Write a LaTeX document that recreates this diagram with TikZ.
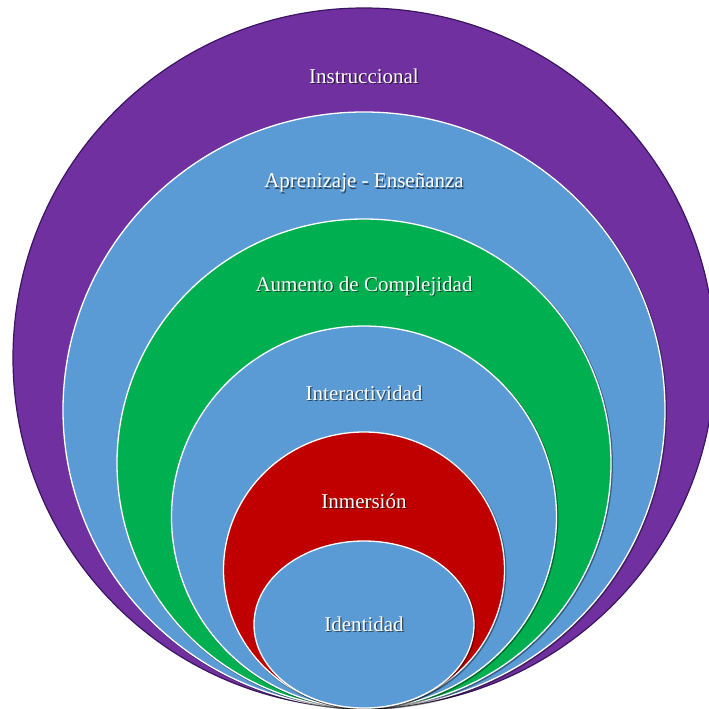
\documentclass[tikz,border=0pt]{standalone}
\usepackage{fontspec}
\setmainfont{Liberation Serif}
\definecolor{ringpurple}{HTML}{7030A0}
\definecolor{purpleedge}{HTML}{3B1561}
\definecolor{ringblue}{HTML}{5B9BD5}
\definecolor{ringgreen}{HTML}{00B050}
\definecolor{ringred}{HTML}{C00000}
\begin{document}
\begin{tikzpicture}[x=1pt,y=-1pt,
  ring/.style={draw=white, line width=1.3pt},
  ringshade/.style={draw=black, opacity=0.4, line width=1.8pt},
  caption/.style={text=white, font=\fontsize{21}{25}\selectfont},
  captionshade/.style={text=black, opacity=0.55, font=\fontsize{21}{25}\selectfont}]
\useasboundingbox (0,0) rectangle (709,709);
\clip (0,0) rectangle (709,709);

% outer ring
\fill[ringpurple] (364,358) ellipse [x radius=351pt, y radius=350pt];
\draw[purpleedge, line width=1.2pt] (364,358) ellipse [x radius=351pt, y radius=350pt];

% nested rings, all resting on the same bottom point
\draw[ringshade] (365,411) ellipse [x radius=301pt, y radius=298pt];
\fill[ringblue] (364,410) ellipse [x radius=301pt, y radius=298pt];
\draw[ring] (364,410) ellipse [x radius=301pt, y radius=298pt];

\draw[ringshade] (365,464.5) ellipse [x radius=247pt, y radius=244.5pt];
\fill[ringgreen] (364,463.5) ellipse [x radius=247pt, y radius=244.5pt];
\draw[ring] (364,463.5) ellipse [x radius=247pt, y radius=244.5pt];

\draw[ringshade] (365,518) ellipse [x radius=192.5pt, y radius=191pt];
\fill[ringblue] (364,517) ellipse [x radius=192.5pt, y radius=191pt];
\draw[ring] (364,517) ellipse [x radius=192.5pt, y radius=191pt];

\draw[ringshade] (365,571) ellipse [x radius=140.5pt, y radius=138pt];
\fill[ringred] (364,570) ellipse [x radius=140.5pt, y radius=138pt];
\draw[ring] (364,570) ellipse [x radius=140.5pt, y radius=138pt];

\draw[ringshade] (365,625.5) ellipse [x radius=110pt, y radius=83.5pt];
\fill[ringblue] (364,624.5) ellipse [x radius=110pt, y radius=83.5pt];
\draw[ring] (364,624.5) ellipse [x radius=110pt, y radius=83.5pt];

% captions with a soft drop shadow
\node[captionshade] (s1) at (365.2,77.2) {Instruccional};
\node[caption] (t1) at (364,76) {Instruccional};
\node[captionshade] (s2) at (365.2,184.2) {Aprenizaje - Enseñanza};
\node[caption] (t2) at (364,183) {Aprenizaje - Enseñanza};
\node[captionshade] (s3) at (365.2,287.2) {Aumento de Complejidad};
\node[caption] (t3) at (364,286) {Aumento de Complejidad};
\node[captionshade] (s4) at (365.2,394.2) {Interactividad};
\node[caption] (t4) at (364,393) {Interactividad};
\node[captionshade] (s5) at (365.2,502.2) {Inmersión};
\node[caption] (t5) at (364,501) {Inmersión};
\node[captionshade] (s6) at (365.2,625.2) {Identidad};
\node[caption] (t6) at (364,624) {Identidad};
\end{tikzpicture}
\end{document}
